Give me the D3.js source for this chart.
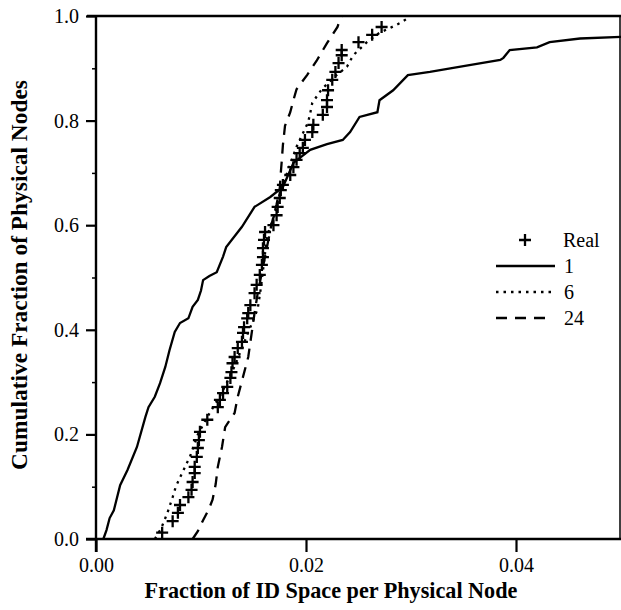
<!DOCTYPE html>
<html>
<head>
<meta charset="utf-8">
<script src="https://cdn.jsdelivr.net/npm/d3@7"></script>
<style>
  html, body { margin: 0; padding: 0; background: #fff; }
  svg { display: block; }
  text { font-family: "Liberation Serif", "Times New Roman", serif; fill: #000; }
</style>
</head>
<body>
<svg id="chart" width="621" height="610"></svg>
<script>
// ---- data (fraction of ID space, cumulative fraction) ----
const xTicks = [0.00, 0.02, 0.04];
const xTickLabels = ["0.00", "0.02", "0.04"];
const yTicks = [0.0, 0.2, 0.4, 0.6, 0.8, 1.0];
const yTickLabels = ["0.0", "0.2", "0.4", "0.6", "0.8", "1.0"];
const yMinorTicks = [0.1, 0.3, 0.5, 0.7, 0.9];

const legendLabels = ["Real", "1", "6", "24"];

const realPoints = [
  [0.0063,0.012],[0.0073,0.034],[0.0078,0.050],[0.0080,0.065],[0.0088,0.080],[0.0091,0.094],
  [0.0092,0.109],[0.0094,0.126],[0.0094,0.138],[0.0096,0.157],[0.0097,0.174],[0.0098,0.189],
  [0.0099,0.205],[0.0106,0.228],[0.0116,0.252],[0.0118,0.266],[0.0121,0.279],[0.0125,0.291],
  [0.0128,0.308],[0.0129,0.319],[0.0130,0.336],[0.0132,0.348],[0.0135,0.365],[0.0139,0.377],
  [0.0140,0.394],[0.0141,0.405],[0.0144,0.422],[0.0145,0.432],[0.0147,0.447],[0.0151,0.470],
  [0.0153,0.486],[0.0156,0.505],[0.0158,0.524],[0.0159,0.539],[0.0159,0.556],[0.0160,0.572],
  [0.0161,0.587],[0.0169,0.600],[0.0172,0.619],[0.0173,0.635],[0.0175,0.652],[0.0176,0.667],
  [0.0178,0.677],[0.0185,0.696],[0.0188,0.711],[0.0191,0.725],[0.0194,0.738],[0.0197,0.748],
  [0.0199,0.763],[0.0206,0.778],[0.0207,0.792],[0.0216,0.811],[0.0220,0.826],[0.0220,0.839],
  [0.0221,0.858],[0.0225,0.878],[0.0228,0.893],[0.0231,0.910],[0.0234,0.925],[0.0234,0.935],
  [0.0250,0.950],[0.0263,0.964],[0.0272,0.979]
];

const series1 = [
  [0.0007,0.000],[0.0010,0.017],[0.0013,0.040],[0.0017,0.055],[0.0023,0.103],[0.0030,0.132],
  [0.0039,0.176],[0.0047,0.233],[0.0050,0.252],[0.0056,0.272],[0.0061,0.298],[0.0066,0.329],
  [0.0070,0.361],[0.0075,0.396],[0.0080,0.413],[0.0088,0.422],[0.0092,0.444],[0.0097,0.457],
  [0.0100,0.475],[0.0102,0.495],[0.0108,0.503],[0.0115,0.510],[0.0121,0.540],[0.0124,0.558],
  [0.0139,0.597],[0.0151,0.635],[0.0166,0.654],[0.0178,0.673],[0.0188,0.719],[0.0204,0.744],
  [0.0220,0.755],[0.0235,0.763],[0.0242,0.778],[0.0251,0.807],[0.0268,0.816],[0.0270,0.839],
  [0.0283,0.858],[0.0297,0.887],[0.0318,0.893],[0.0350,0.904],[0.0385,0.916],[0.0388,0.920],
  [0.0394,0.935],[0.0420,0.940],[0.0432,0.950],[0.0461,0.957],[0.0500,0.960]
];

const series6 = [
  [0.0056,0.000],[0.0062,0.020],[0.0068,0.050],[0.0073,0.080],[0.0076,0.100],[0.0082,0.126],
  [0.0090,0.160],[0.0097,0.200],[0.0108,0.240],[0.0120,0.280],[0.0132,0.330],[0.0140,0.370],
  [0.0148,0.410],[0.0154,0.440],[0.0157,0.480],[0.0160,0.530],[0.0163,0.580],[0.0170,0.620],
  [0.0175,0.660],[0.0182,0.700],[0.0191,0.750],[0.0202,0.797],[0.0204,0.814],[0.0206,0.834],
  [0.0215,0.860],[0.0228,0.885],[0.0239,0.903],[0.0245,0.925],[0.0258,0.950],[0.0270,0.968],
  [0.0280,0.977],[0.0290,0.987],[0.0297,0.996],[0.0299,1.000]
];

const series24 = [
  [0.0092,0.000],[0.0097,0.015],[0.0102,0.036],[0.0107,0.055],[0.0111,0.075],[0.0114,0.105],
  [0.0116,0.138],[0.0120,0.176],[0.0123,0.214],[0.0132,0.241],[0.0135,0.272],[0.0140,0.310],
  [0.0145,0.348],[0.0148,0.390],[0.0151,0.432],[0.0154,0.470],[0.0158,0.510],[0.0162,0.550],
  [0.0167,0.600],[0.0172,0.640],[0.0175,0.670],[0.0176,0.700],[0.0177,0.725],[0.0178,0.753],
  [0.0180,0.790],[0.0185,0.816],[0.0188,0.839],[0.0191,0.860],[0.0201,0.887],[0.0210,0.914],
  [0.0220,0.948],[0.0230,0.979],[0.0232,0.992],[0.0234,1.000]
];

// ---- layout ----
const svg = d3.select("#chart");
const mLeft = 96, mRight = 621, mTop = 16, mBottom = 539;
const x = d3.scaleLinear().domain([0, 0.05]).range([mLeft, mRight]);
const y = d3.scaleLinear().domain([0, 1]).range([mBottom, mTop]);

const plot = svg.append("g");

// frame: top and right borders
plot.append("line").attr("x1", 87).attr("x2", 621).attr("y1", y(1)).attr("y2", y(1))
  .attr("stroke", "#000").attr("stroke-width", 2.4);
plot.append("line").attr("x1", 620).attr("x2", 620).attr("y1", y(1)).attr("y2", y(0))
  .attr("stroke", "#000").attr("stroke-width", 1.5);

// y axis
const yAxis = d3.axisLeft(y).tickValues(yTicks).tickFormat((d, i) => yTickLabels[i])
  .tickSize(10).tickPadding(7);
const gy = svg.append("g").attr("transform", `translate(${mLeft},0)`).call(yAxis);
gy.select(".domain").attr("stroke-width", 2.4).attr("d", `M0,${mBottom + 13}V${mTop}`);
gy.selectAll(".tick line").attr("stroke-width", 2.2);
gy.selectAll(".tick text").style("font-size", "20px").attr("font-family", "Liberation Serif");
const gym = svg.append("g").attr("transform", `translate(${mLeft},0)`)
  .call(d3.axisLeft(y).tickValues(yMinorTicks).tickSize(4).tickFormat(""));
gym.select(".domain").remove();
gym.selectAll(".tick line").attr("stroke-width", 1.5);

// x axis
const xAxis = d3.axisBottom(x).tickValues(xTicks).tickFormat((d, i) => xTickLabels[i])
  .tickSize(13).tickPadding(6);
const gx = svg.append("g").attr("transform", `translate(0,${mBottom})`).call(xAxis);
gx.select(".domain").attr("stroke-width", 2.4).attr("d", `M${mLeft - 10},0H${mRight}`);
gx.selectAll(".tick line").attr("stroke-width", 2.2);
gx.selectAll(".tick text").style("font-size", "20px").attr("font-family", "Liberation Serif");

// axis titles
function fitText(sel, target) {
  const w = sel.node().getComputedTextLength();
  const fs = parseFloat(sel.style("font-size"));
  sel.style("font-size", (fs * target / w).toFixed(2) + "px");
}
const xt = svg.append("text").attr("x", 331).attr("y", 598).attr("text-anchor", "middle")
  .style("font-weight", "bold").style("font-size", "20px")
  .text("Fraction of ID Space per Physical Node");
fitText(xt, 373);
const yt = svg.append("text").attr("transform", "translate(27,275) rotate(-90)")
  .attr("text-anchor", "middle").style("font-weight", "bold").style("font-size", "20px")
  .text("Cumulative Fraction of Physical Nodes");
fitText(yt, 390);

// lines
const line = d3.line().x(d => x(d[0])).y(d => y(d[1]));
plot.append("path").datum(series1).attr("d", line)
  .attr("fill", "none").attr("stroke", "#000").attr("stroke-width", 2.3);
plot.append("path").datum(series6).attr("d", line)
  .attr("fill", "none").attr("stroke", "#000").attr("stroke-width", 2.3)
  .attr("stroke-dasharray", "2.5,5");
plot.append("path").datum(series24).attr("d", line)
  .attr("fill", "none").attr("stroke", "#000").attr("stroke-width", 2.3)
  .attr("stroke-dasharray", "11,8");

// Real markers (+)
const ps = 6;
const markers = plot.append("g").attr("stroke", "#000").attr("stroke-width", 2.3).attr("fill", "none");
markers.selectAll("path").data(realPoints).join("path")
  .attr("d", d => `M${x(d[0]) - ps},${y(d[1])}H${x(d[0]) + ps}M${x(d[0])},${y(d[1]) - ps}V${y(d[1]) + ps}`);

// legend
const lg = svg.append("g");
const lgRows = [
  { y: 240, type: "plus" },
  { y: 266, type: "solid" },
  { y: 292, type: "dotted" },
  { y: 318, type: "dashed" }
];
lgRows.forEach((r, i) => {
  if (r.type === "plus") {
    lg.append("path").attr("d", `M${525 - ps},${r.y}H${525 + ps}M525,${r.y - ps}V${r.y + ps}`)
      .attr("stroke", "#000").attr("stroke-width", 2.3);
  } else {
    const ln = lg.append("line").attr("x1", 496).attr("x2", r.type === "dashed" ? 546 : 555)
      .attr("y1", r.y).attr("y2", r.y).attr("stroke", "#000").attr("stroke-width", 2.3);
    if (r.type === "dotted") ln.attr("stroke-dasharray", "2.5,5");
    if (r.type === "dashed") ln.attr("stroke-dasharray", "11,8");
  }
  lg.append("text").attr("x", i === 0 ? 563 : 564).attr("y", r.y).attr("dy", "0.35em")
    .style("font-size", "20px").text(legendLabels[i]);
});
</script>
</body>
</html>
